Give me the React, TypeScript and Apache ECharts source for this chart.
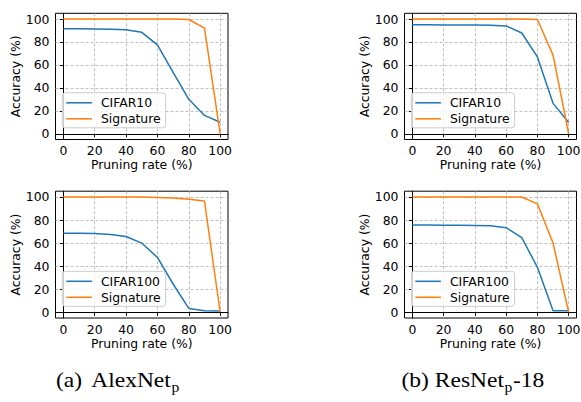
import React, { useEffect, useRef } from "react";
import * as echarts from "echarts";

const pruningRates = [0, 10, 20, 30, 40, 50, 60, 70, 80, 90, 100];
const tickValues = [0, 20, 40, 60, 80, 100];

const alexNetCifar10 = [91.5, 91.5, 91.4, 91.2, 90.6, 88.4, 77.5, 53.5, 30, 16, 10];
const alexNetSig10 = [100, 100, 100, 100, 100, 100, 100, 100, 99.6, 92, 0];
const resNetCifar10 = [95, 95, 94.9, 94.9, 94.8, 94.6, 94, 87.8, 67, 26.5, 9.8];
const resNetSig10 = [100, 100, 100, 100, 100, 100, 100, 100, 99.6, 68.5, 0];
const alexNetCifar100 = [68.5, 68.5, 68.3, 67.5, 65.7, 60, 47.5, 24.5, 3.3, 1.3, 1.0];
const alexNetSig100 = [100, 100, 100, 100, 100, 99.9, 99.6, 99.1, 98, 96.5, 0];
const resNetCifar100 = [75.6, 75.6, 75.5, 75.4, 75.3, 75.0, 73.3, 64.7, 39, 1.2, 1.2];
const resNetSig100 = [100, 100, 100, 100, 100, 100, 100, 100, 94, 60, 0];

const panels = [
  { dataset: "CIFAR10", acc: alexNetCifar10, sig: alexNetSig10 },
  { dataset: "CIFAR10", acc: resNetCifar10, sig: resNetSig10 },
  { dataset: "CIFAR100", acc: alexNetCifar100, sig: alexNetSig100 },
  { dataset: "CIFAR100", acc: resNetCifar100, sig: resNetSig100 },
];

const SANS = '"DejaVu Sans", sans-serif';
const SERIF = '"Liberation Serif", "Times New Roman", serif';
const FS = 12.4;
const BLUE = "#1f77b4";
const ORANGE = "#ff7f0e";

const gridRects = [
  { left: 55.5, top: 13.3, width: 172.5, height: 126.2 },
  { left: 404.5, top: 13.3, width: 172, height: 126.2 },
  { left: 55.5, top: 191.2, width: 172.5, height: 126.8 },
  { left: 404.5, top: 191.2, width: 172, height: 126.8 },
];

function measure(text: string, font: string): number {
  const c = document.createElement("canvas").getContext("2d");
  if (!c) return text.length * 10;
  c.font = font;
  return c.measureText(text).width;
}

export default function App() {
  const ref = useRef<HTMLDivElement>(null);
  useEffect(() => {
    if (!ref.current) return;
    const chart = echarts.init(ref.current, undefined, { renderer: "svg" });

    const grids = gridRects.map((g) => ({
      ...g,
      show: true,
      borderColor: "#000",
      borderWidth: 1,
      backgroundColor: "transparent",
      containLabel: false,
      outerBoundsMode: "none",
    }));

    const axisCommon = {
      type: "value",
      min: -5,
      max: 105,
      axisLine: { show: true, lineStyle: { color: "#000", width: 1 } },
      axisTick: {
        show: true,
        inside: false,
        length: 3.5,
        customValues: tickValues,
        lineStyle: { color: "#000", width: 1 },
      },
      splitLine: {
        show: true,
        lineStyle: { color: "#b0b0b0", width: 0.8, type: [3, 2] },
      },
      nameLocation: "middle",
      nameTextStyle: { fontSize: FS, color: "#000", fontFamily: SANS },
    };

    const xAxes = gridRects.map((_, i) => ({
      ...axisCommon,
      gridIndex: i,
      name: "Pruning rate (%)",
      nameGap: 19,
      axisLabel: {
        customValues: tickValues,
        fontSize: FS,
        color: "#000",
        fontFamily: SANS,
        margin: 5,
      },
    }));

    const yAxes = gridRects.map((_, i) => ({
      ...axisCommon,
      gridIndex: i,
      name: "Accuracy (%)",
      nameGap: 31,
      nameRotate: 90,
      axisLabel: {
        customValues: tickValues,
        fontSize: FS,
        color: "#000",
        fontFamily: SANS,
        margin: 6,
      },
    }));

    const series: any[] = [];
    panels.forEach((p, i) => {
      series.push({
        type: "line",
        name: p.dataset,
        xAxisIndex: i,
        yAxisIndex: i,
        data: pruningRates.map((r, k) => [r, p.acc[k]]),
        symbol: "none",
        lineStyle: { color: BLUE, width: 1.5 },
        itemStyle: { color: BLUE },
        z: 3,
      });
      series.push({
        type: "line",
        name: "Signature",
        xAxisIndex: i,
        yAxisIndex: i,
        data: pruningRates.map((r, k) => [r, p.sig[k]]),
        symbol: "none",
        lineStyle: { color: ORANGE, width: 1.5 },
        itemStyle: { color: ORANGE },
        z: 3,
      });
    });

    const legends = panels.map((p, i) => ({
      data: [p.dataset, "Signature"],
      orient: "vertical",
      left: gridRects[i].left + 6.8,
      top: gridRects[i].top + gridRects[i].height - 46.7,
      icon: "path://M0,0H25V1.5H0Z",
      symbolKeepAspect: true,
      itemWidth: 25.6,
      itemHeight: 14,
      itemGap: 4,
      padding: [4, 5, 3, 4],
      selectedMode: false,
      backgroundColor: "rgba(255,255,255,0.8)",
      borderColor: "#cccccc",
      borderWidth: 1,
      borderRadius: 3,
      textStyle: {
        fontSize: FS,
        color: "#000",
        fontFamily: SANS,
        padding: [0, 0, 0, 4],
      },
      z: 10,
    }));

    const SX = 1.12;
    const capFont = `21px ${SERIF}`;
    const subFont = `14px ${SERIF}`;
    const capMid = 379.5;
    const subMid = 387;
    const aX1 = 91.2;
    const aW = measure("AlexNet", capFont) * SX;
    const bX0 = 401.5;
    const bW1 = measure("(b) ResNet", capFont) * SX;
    const bW2 = measure("p", subFont) * SX;

    const txt = (text: string, x: number, y: number, font: string) => ({
      type: "text",
      x,
      y,
      scaleX: SX,
      silent: true,
      style: {
        text,
        font,
        fill: "#000",
        textAlign: "left",
        verticalAlign: "middle",
        textVerticalAlign: "middle",
      },
    });

    const graphic = [
      txt("(a)", 56, capMid, capFont),
      txt("AlexNet", aX1, capMid, capFont),
      txt("p", aX1 + aW + 0.5, subMid, subFont),
      txt("(b) ResNet", bX0, capMid, capFont),
      txt("p", bX0 + bW1 + 0.5, subMid, subFont),
      txt("-18", bX0 + bW1 + bW2 + 1, capMid, capFont),
    ];

    chart.setOption({
      animation: false,
      backgroundColor: "#fff",
      textStyle: { fontFamily: SANS },
      grid: grids,
      xAxis: xAxes,
      yAxis: yAxes,
      legend: legends,
      series,
      graphic,
    } as any);

    return () => chart.dispose();
  }, []);

  return (
    <div
      ref={ref}
      style={{ position: "fixed", left: 0, top: 0, width: 581, height: 402 }}
    />
  );
}
